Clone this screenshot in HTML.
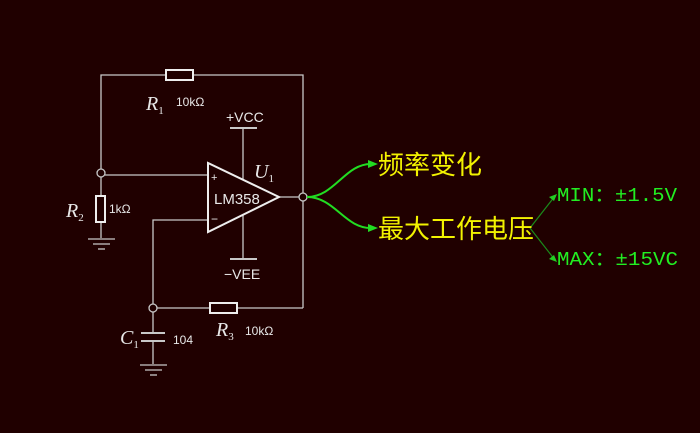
<!DOCTYPE html><html><head><style>body{margin:0;background:#200000;}svg{display:block}</style></head><body>
<svg width="700" height="433" viewBox="0 0 700 433" xmlns="http://www.w3.org/2000/svg">
<rect width="700" height="433" fill="#200000"/>
<g stroke="#c8c8c8" stroke-width="1.3" fill="none">
<polyline points="101,169 101,75 303,75 303,193"/>
<line x1="303" y1="201" x2="303" y2="308"/>
<line x1="105" y1="175" x2="208" y2="175"/>
<line x1="101" y1="177" x2="101" y2="238"/>
<line x1="279" y1="197" x2="299" y2="197"/>
<polyline points="208,220 153,220 153,304"/>
<line x1="157" y1="308" x2="303" y2="308"/>
<line x1="153" y1="312" x2="153" y2="333"/>
<line x1="153" y1="341" x2="153" y2="364"/>
<line x1="243" y1="128" x2="243" y2="181"/>
<line x1="243" y1="214" x2="243" y2="259"/>
<line x1="230" y1="128" x2="257" y2="128" stroke-width="2"/>
<line x1="230" y1="259" x2="257" y2="259" stroke-width="2"/>
<line x1="141" y1="333" x2="165" y2="333" stroke-width="2"/>
<line x1="141" y1="341" x2="165" y2="341" stroke-width="2"/>
<circle cx="101" cy="173" r="4"/><circle cx="303" cy="197" r="4"/><circle cx="153" cy="308" r="4"/>
<line x1="88" y1="239" x2="115" y2="239"/><line x1="93" y1="244" x2="110" y2="244"/><line x1="98" y1="249" x2="105" y2="249"/>
<line x1="140" y1="365" x2="167" y2="365"/><line x1="145" y1="370" x2="162" y2="370"/><line x1="150" y1="375" x2="157" y2="375"/>
</g>
<g stroke="#eeeeee" stroke-width="2" fill="#200000">
<rect x="166" y="70" width="27" height="10"/>
<rect x="96" y="196" width="9" height="26"/>
<rect x="210" y="303" width="27" height="10"/>
<polygon points="208,163 208,232 279,197"/>
</g>
<g fill="#e8e8e8" font-family="Liberation Sans, sans-serif" font-size="14">
<text x="226" y="122">+VCC</text><text x="224" y="279">−VEE</text>
<text x="214" y="204" font-size="15">LM358</text>
<text x="211" y="181" font-size="11">+</text><text x="211" y="223" font-size="12">−</text>
<text x="176" y="106" font-size="12">10kΩ</text><text x="109" y="213" font-size="12">1kΩ</text>
<text x="245" y="335" font-size="12">10kΩ</text><text x="173" y="344" font-size="12">104</text>
</g>
<g fill="#e8e8e8" font-family="Liberation Serif, serif" font-style="italic" font-size="20">
<text x="146" y="110">R<tspan font-size="11" font-style="normal" dy="4">1</tspan></text>
<text x="66" y="217">R<tspan font-size="11" font-style="normal" dy="4">2</tspan></text>
<text x="254" y="178">U<tspan font-size="11" font-style="normal" dy="4">1</tspan></text>
<text x="120" y="344">C<tspan font-size="11" font-style="normal" dy="4">1</tspan></text>
<text x="216" y="336">R<tspan font-size="11" font-style="normal" dy="4">3</tspan></text>
</g>
<g stroke="#22dd22" stroke-width="2" fill="none">
<path d="M307,197 C335,197 345,163 372,164"/>
<path d="M307,197 C335,197 345,229 372,228"/>
</g>
<polygon points="378,164 368,160 368,168" fill="#22dd22"/>
<polygon points="378,228 368,224 368,232" fill="#22dd22"/>
<g stroke="#1a8a1a" stroke-width="1.2"><line x1="530" y1="228" x2="555" y2="196"/><line x1="530" y1="228" x2="555" y2="260"/></g>
<polygon points="557,194 549,197 554,201" fill="#22cc22"/><polygon points="557,262 549,259 554,255" fill="#22cc22"/>
<g fill="#f2f200" font-family="Liberation Sans, 'Noto Sans CJK SC', sans-serif" font-size="26">
<text x="378" y="174">频率变化</text><text x="378" y="238">最大工作电压</text>
</g>
<g fill="#22ee22" font-family="Liberation Mono, 'Noto Sans CJK SC', monospace" font-size="19">
<text x="557" y="201" textLength="120" lengthAdjust="spacingAndGlyphs">MIN：±1.5V</text><text x="557" y="265" textLength="121" lengthAdjust="spacingAndGlyphs">MAX：±15VC</text>
</g>
</svg></body></html>
